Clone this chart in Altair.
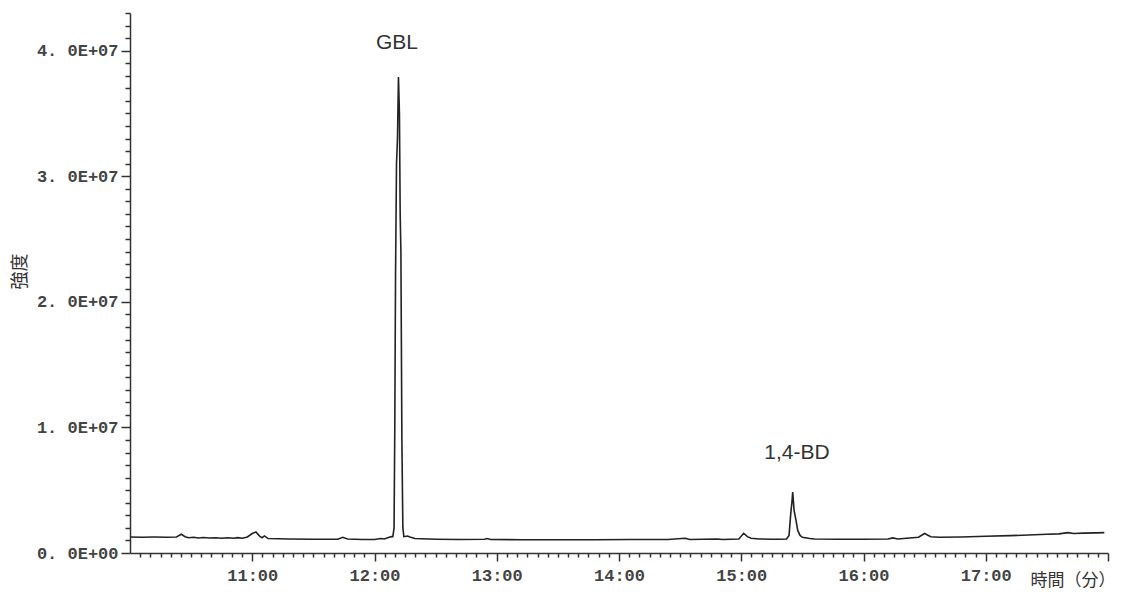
import altair as alt
import pandas as pd

# Chromatogram trace (time in minutes, intensity in units of 1e6)
time_min = [
    10.00, 10.10, 10.20, 10.30, 10.38, 10.42, 10.45, 10.48, 10.52, 10.56,
    10.60, 10.65, 10.70, 10.75, 10.80, 10.85, 10.88, 10.92, 10.96, 11.00,
    11.03, 11.06, 11.08, 11.10, 11.13, 11.30, 11.50, 11.60, 11.70, 11.74,
    11.78, 11.90, 12.00, 12.05, 12.08, 12.12, 12.14,
    12.150, 12.160, 12.166, 12.172, 12.180, 12.188, 12.196, 12.204, 12.210,
    12.216, 12.224, 12.232, 12.240,
    12.27, 12.29, 12.33, 12.50, 12.70, 12.90, 12.92, 12.95, 13.20, 13.50,
    13.80, 14.10, 14.40, 14.54, 14.58, 14.80, 14.85, 14.98, 15.02, 15.05,
    15.08, 15.15, 15.25, 15.32, 15.37,
    15.391, 15.405, 15.414, 15.421, 15.432, 15.448, 15.462, 15.481,
    15.50, 15.56, 15.60, 15.80, 16.00, 16.20, 16.24, 16.28, 16.45, 16.50,
    16.55, 16.62, 16.80, 17.00, 17.20, 17.40, 17.50, 17.60, 17.67, 17.72,
    17.80, 17.90, 17.97,
]
intensity_millions = [
    1.27, 1.26, 1.27, 1.26, 1.27, 1.49, 1.30, 1.22, 1.25, 1.20,
    1.23, 1.19, 1.22, 1.18, 1.22, 1.17, 1.22, 1.18, 1.28, 1.55,
    1.67, 1.35, 1.22, 1.36, 1.15, 1.12, 1.10, 1.09, 1.10, 1.25,
    1.12, 1.07, 1.08, 1.15, 1.12, 1.25, 1.30,
    1.30, 2.00, 10.0, 22.0, 31.0, 33.0, 37.9, 35.0, 27.0,
    24.0, 9.0, 2.0, 1.30,
    1.35, 1.28, 1.15, 1.10, 1.08, 1.10, 1.15, 1.07, 1.06, 1.06,
    1.06, 1.07, 1.08, 1.17, 1.08, 1.12, 1.08, 1.12, 1.57, 1.30,
    1.18, 1.12, 1.10, 1.10, 1.12,
    1.40, 3.16, 4.00, 4.86, 3.40, 2.60, 1.80, 1.40,
    1.25, 1.15, 1.12, 1.10, 1.10, 1.12, 1.20, 1.12, 1.25, 1.55,
    1.30, 1.25, 1.27, 1.33, 1.38, 1.45, 1.49, 1.52, 1.62, 1.55,
    1.58, 1.60, 1.62,
]

# Peak labels
peak_labels = ["GBL", "1,4-BD"]
peak_label_time = [12.184, 15.456]
peak_label_intensity_millions = [40.6, 8.0]

# Axis ticks
x_major_values = [11, 12, 13, 14, 15, 16, 17]
x_tick_labels = ["11:00", "12:00", "13:00", "14:00", "15:00", "16:00", "17:00"]
y_major_values = [0, 10, 20, 30, 40]  # millions
y_tick_labels = ["0. 0E+00", "1. 0E+07", "2. 0E+07", "3. 0E+07", "4. 0E+07"]

trace = pd.DataFrame({
    "t": time_min,
    "v": [v * 1e6 for v in intensity_millions],
})
labels = pd.DataFrame({
    "t": peak_label_time,
    "v": [v * 1e6 for v in peak_label_intensity_millions],
    "label": peak_labels,
})

x_values = [10 + i / 12 for i in range(1, 97)]
y_values = [i * 1e6 for i in range(0, 44)]

x_map = "{" + ",".join(f"'{v}':'{l}'" for v, l in zip(x_major_values, x_tick_labels)) + "}"
x_label_expr = (
    f"abs(datum.value - round(datum.value)) < 0.001 && {x_map}[round(datum.value)] ? "
    f"{x_map}[round(datum.value)] : ''"
)
y_map = "{" + ",".join(f"'{int(v * 1e6)}':'{l}'" for v, l in zip(y_major_values, y_tick_labels)) + "}"
y_label_expr = f"{y_map}[datum.value] ? {y_map}[datum.value] : ''"

x_scale = alt.Scale(domain=[10, 18], nice=False, zero=False)
y_scale = alt.Scale(domain=[0, 4.3e7], nice=False)

x_axis = alt.Axis(
    values=x_values,
    tickCount=500,
    labelExpr=x_label_expr,
    labelOverlap=False,
    labelFlush=False,
    labelFont="Liberation Mono",
    labelFontWeight="bold",
    labelFontSize=17,
    labelColor="#444",
    labelPadding=6,
    labelBaseline="top",
    tickSize={"condition": {"test": "abs(datum.value - round(datum.value)) < 0.001", "value": 8}, "value": 4},
    tickColor="#333",
    tickWidth=1.5,
    domainColor="#333",
    domainWidth=1.5,
    grid=False,
    title="時間（分）",
    titleFont="Noto Sans CJK JP",
    titleFontSize=17,
    titleFontWeight="normal",
    titleColor="#333",
    titleAnchor="start",
    titleAlign="left",
    titleBaseline="middle",
    titleX=900,
    titleY=27,
)
y_axis = alt.Axis(
    values=y_values,
    tickCount=500,
    labelExpr=y_label_expr,
    labelOverlap=False,
    labelFlush=False,
    labelFont="Liberation Mono",
    labelFontWeight="bold",
    labelFontSize=17,
    labelColor="#444",
    labelPadding=3,
    tickSize={"condition": {"test": "datum.value % 10000000 === 0", "value": 9}, "value": 5},
    tickColor="#333",
    tickWidth=1.5,
    domainColor="#333",
    domainWidth=1.5,
    grid=False,
    title="強度",
    titleFont="Noto Sans CJK JP",
    titleFontSize=18,
    titleFontWeight="normal",
    titleColor="#333",
    titleAngle=270,
    titleAlign="center",
    titleBaseline="middle",
    titleX=-110,
    titleY=258,
)

line = alt.Chart(trace).mark_line(color="#222", strokeWidth=1.6).encode(
    x=alt.X("t:Q", scale=x_scale, axis=x_axis),
    y=alt.Y("v:Q", scale=y_scale, axis=y_axis),
)

text = alt.Chart(labels).mark_text(
    font="Liberation Sans", fontSize=21, color="#333", align="center", baseline="middle"
).encode(
    x=alt.X("t:Q", scale=x_scale),
    y=alt.Y("v:Q", scale=y_scale),
    text="label:N",
)

chart = (line + text).properties(
    width=978,
    height=540,
    autosize=alt.AutoSizeParams(type="none"),
    padding={"left": 130, "top": 13, "right": 31, "bottom": 39},
    background="white",
).configure_view(stroke=None)

chart.save("out.html", embed_options={"renderer": "svg", "actions": False})
